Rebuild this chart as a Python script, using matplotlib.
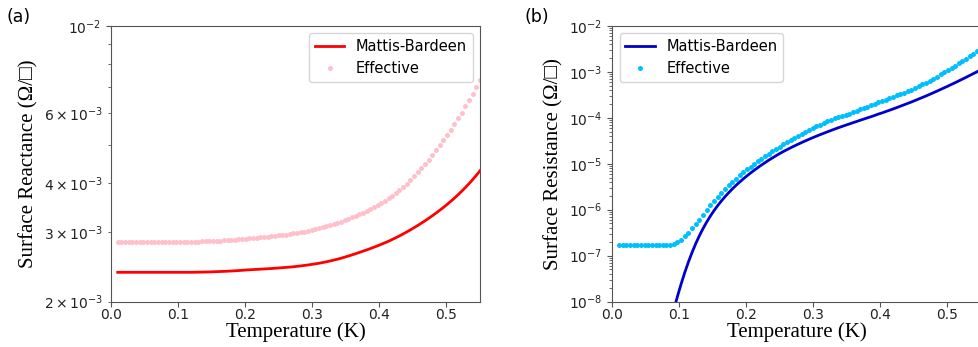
import numpy as np
import matplotlib
matplotlib.use("Agg")
import matplotlib.pyplot as plt

# Temperature grid (K) shared by all curves
temp_k = np.linspace(0.01, 0.55, 100)

# (a) Surface reactance, in mOhm/sq
xs_mb_milli = [
    2.372, 2.372, 2.372, 2.372, 2.372, 2.372, 2.372, 2.372, 2.372, 2.372,
    2.372, 2.372, 2.372, 2.372, 2.372, 2.372, 2.372, 2.372, 2.372, 2.372,
    2.372, 2.373, 2.374, 2.375, 2.376, 2.377, 2.379, 2.381, 2.383, 2.385,
    2.387, 2.390, 2.393, 2.396, 2.400, 2.404, 2.407, 2.410, 2.413, 2.416,
    2.419, 2.422, 2.425, 2.429, 2.433, 2.437, 2.441, 2.445, 2.450, 2.456,
    2.462, 2.469, 2.476, 2.484, 2.492, 2.501, 2.511, 2.522, 2.534, 2.547,
    2.560, 2.575, 2.591, 2.608, 2.626, 2.644, 2.663, 2.683, 2.703, 2.724,
    2.746, 2.769, 2.793, 2.818, 2.844, 2.873, 2.903, 2.934, 2.968, 3.003,
    3.040, 3.079, 3.119, 3.162, 3.206, 3.253, 3.302, 3.354, 3.408, 3.465,
    3.526, 3.590, 3.658, 3.731, 3.809, 3.892, 3.981, 4.077, 4.181, 4.292,
]
xs_eff_milli = [
    2.830, 2.830, 2.830, 2.830, 2.830, 2.830, 2.830, 2.830, 2.830, 2.830,
    2.830, 2.830, 2.830, 2.830, 2.830, 2.830, 2.830, 2.830, 2.830, 2.832,
    2.834, 2.836, 2.838, 2.840, 2.842, 2.845, 2.848, 2.851, 2.855, 2.859,
    2.863, 2.867, 2.871, 2.875, 2.881, 2.886, 2.892, 2.898, 2.904, 2.910,
    2.917, 2.923, 2.930, 2.937, 2.944, 2.951, 2.958, 2.966, 2.976, 2.986,
    2.997, 3.009, 3.021, 3.035, 3.050, 3.066, 3.084, 3.103, 3.123, 3.144,
    3.166, 3.190, 3.215, 3.241, 3.268, 3.297, 3.328, 3.361, 3.396, 3.433,
    3.472, 3.513, 3.557, 3.604, 3.653, 3.706, 3.765, 3.830, 3.900, 3.978,
    4.060, 4.155, 4.253, 4.357, 4.466, 4.582, 4.706, 4.838, 4.978, 5.128,
    5.287, 5.456, 5.636, 5.828, 6.032, 6.249, 6.480, 6.726, 6.988, 7.280,
]

# (b) Surface resistance, Ohm/sq; Mattis-Bardeen from the 15th grid point on
rs_mb_start = 14
rs_mb = [
    3.16e-9, 6.61e-9, 1.29e-8, 2.40e-8, 4.27e-8, 7.24e-8,
    1.17e-7, 1.82e-7, 2.70e-7, 3.87e-7, 5.37e-7, 7.24e-7, 9.53e-7, 1.22e-6, 1.54e-6, 1.91e-6,
    2.33e-6, 2.82e-6, 3.37e-6, 3.98e-6, 4.67e-6, 5.43e-6, 6.28e-6, 7.21e-6, 8.24e-6, 9.38e-6,
    1.06e-5, 1.20e-5, 1.34e-5, 1.50e-5, 1.67e-5, 1.85e-5, 2.03e-5, 2.23e-5, 2.44e-5, 2.66e-5,
    2.90e-5, 3.15e-5, 3.41e-5, 3.69e-5, 3.98e-5, 4.29e-5, 4.60e-5, 4.94e-5, 5.30e-5, 5.68e-5,
    6.08e-5, 6.47e-5, 6.90e-5, 7.33e-5, 7.82e-5, 8.30e-5, 8.85e-5, 9.40e-5, 1.00e-4, 1.06e-4,
    1.13e-4, 1.21e-4, 1.28e-4, 1.37e-4, 1.46e-4, 1.56e-4, 1.67e-4, 1.79e-4, 1.92e-4, 2.06e-4,
    2.21e-4, 2.38e-4, 2.57e-4, 2.77e-4, 2.99e-4, 3.24e-4, 3.51e-4, 3.81e-4, 4.14e-4, 4.51e-4,
    4.90e-4, 5.35e-4, 5.83e-4, 6.38e-4, 6.98e-4, 7.64e-4, 8.39e-4, 9.20e-4, 1.01e-3, 1.12e-3,
]
rs_eff = [
    1.73e-7, 1.73e-7, 1.73e-7, 1.73e-7, 1.73e-7, 1.73e-7, 1.73e-7, 1.73e-7, 1.73e-7, 1.73e-7,
    1.73e-7, 1.73e-7, 1.73e-7, 1.73e-7, 1.74e-7, 1.81e-7, 1.97e-7, 2.24e-7, 2.63e-7, 3.16e-7,
    3.89e-7, 4.84e-7, 6.10e-7, 7.76e-7, 9.89e-7, 1.245e-6, 1.55e-6, 1.905e-6, 2.33e-6, 2.82e-6,
    3.39e-6, 4.03e-6, 4.75e-6, 5.56e-6, 6.46e-6, 7.59e-6, 8.69e-6, 9.93e-6, 1.13e-5, 1.29e-5,
    1.46e-5, 1.65e-5, 1.86e-5, 2.09e-5, 2.36e-5, 2.64e-5, 2.94e-5, 3.28e-5, 3.65e-5, 4.04e-5,
    4.47e-5, 4.93e-5, 5.42e-5, 5.94e-5, 6.52e-5, 7.11e-5, 7.74e-5, 8.41e-5, 9.12e-5, 9.86e-5,
    1.04e-4, 1.09e-4, 1.15e-4, 1.23e-4, 1.32e-4, 1.42e-4, 1.52e-4, 1.63e-4, 1.75e-4, 1.88e-4,
    2.02e-4, 2.16e-4, 2.32e-4, 2.49e-4, 2.67e-4, 2.86e-4, 3.08e-4, 3.30e-4, 3.55e-4, 3.82e-4,
    4.13e-4, 4.49e-4, 4.89e-4, 5.33e-4, 5.86e-4, 6.46e-4, 7.14e-4, 7.91e-4, 8.79e-4, 9.79e-4,
    1.09e-3, 1.22e-3, 1.37e-3, 1.54e-3, 1.73e-3, 1.95e-3, 2.20e-3, 2.48e-3, 2.80e-3, 3.16e-3,
]

series_labels = ["Mattis-Bardeen", "Effective"]
x_label = "Temperature (K)"
y_labels = ["Surface Reactance (\u03a9/\u25a1)", "Surface Resistance (\u03a9/\u25a1)"]
panel_tags = ["(a)", "(b)"]

serif = ["Liberation Serif", "DejaVu Serif"]
spine_col = "#555555"

fig = plt.figure(figsize=(9.79, 3.47), dpi=100)
ax_a = fig.add_axes([0.1134, 0.1311, 0.3769, 0.7940])
ax_b = fig.add_axes([0.6254, 0.1311, 0.3764, 0.7940])

# Panel (a)
ax_a.plot(temp_k, np.array(xs_mb_milli) * 1e-3, color="red", lw=2.0,
          label=series_labels[0])
ax_a.plot(temp_k, np.array(xs_eff_milli) * 1e-3, "o", color="pink", ms=3.6,
          mec="none", label=series_labels[1])
ax_a.set_yscale("log")
ax_a.set_ylim(2e-3, 1e-2)
ax_a.legend(loc="upper right", fontsize=10.5)

# Panel (b)
ax_b.plot(temp_k[rs_mb_start:], rs_mb, color="mediumblue", lw=2.0,
          label=series_labels[0])
ax_b.plot(temp_k, rs_eff, "o", color="deepskyblue", ms=3.6, mec="none",
          label=series_labels[1])
ax_b.set_yscale("log")
ax_b.set_ylim(1e-8, 1e-2)
ax_b.legend(loc="upper left", fontsize=10.5)

for ax, ylab in zip((ax_a, ax_b), y_labels):
    ax.set_xlim(0, 0.55)
    ax.set_xticks([0.0, 0.1, 0.2, 0.3, 0.4, 0.5])
    ax.set_xlabel(x_label, family=serif, fontsize=15, labelpad=0)
    ax.set_ylabel(ylab, family=serif, fontsize=15)
    for sp in ax.spines.values():
        sp.set_color(spine_col)
    ax.tick_params(which="both", colors=spine_col, labelcolor="#222222")
    ax.tick_params(axis="x", pad=1.5)

fig.text(0.007, 0.95, panel_tags[0], fontsize=12.5, va="center", ha="left")
fig.text(0.536, 0.95, panel_tags[1], fontsize=12.5, va="center", ha="left")

fig.savefig("out.png", dpi=100)
